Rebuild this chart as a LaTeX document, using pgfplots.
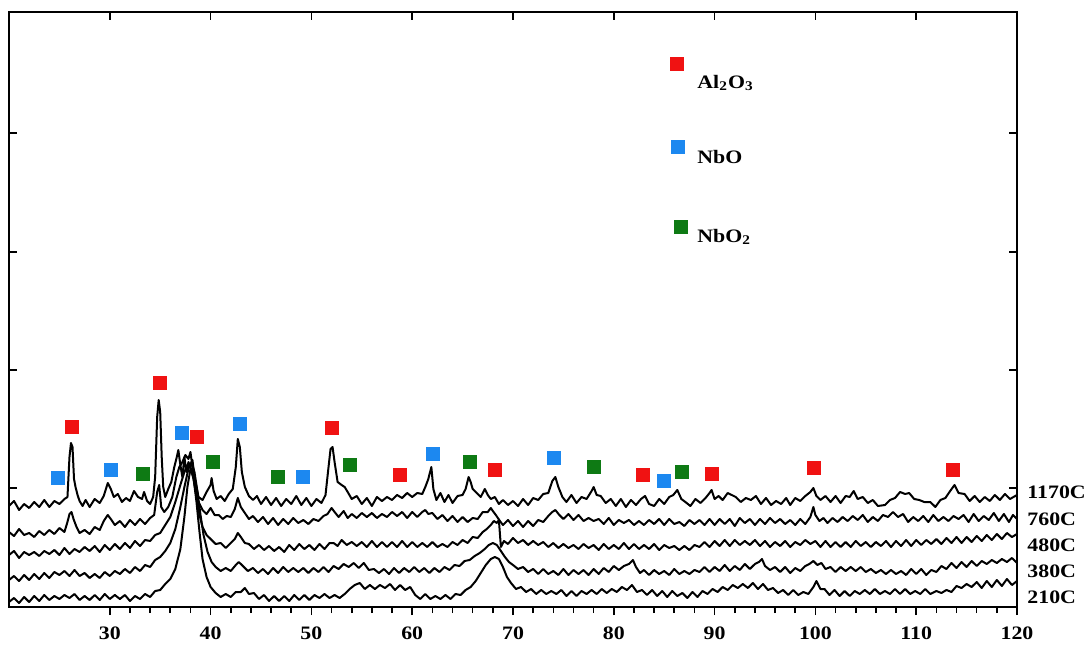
\documentclass[border=0pt]{standalone}
\usepackage{fontspec}
\setmainfont{Liberation Serif}
\usepackage{pgfplots}
\pgfplotsset{compat=1.18}
\definecolor{alred}{HTML}{F01212}
\definecolor{nboblue}{HTML}{1C88F0}
\definecolor{nbogreen}{HTML}{0E7A14}
\newcommand\lab{\bfseries\fontsize{9.5}{11}\selectfont}
\begin{document}
\begin{tikzpicture}
\useasboundingbox (-4.5pt,-18.5pt) rectangle (540pt,303.5pt);
% frame: top ticks + y ticks (inside)
\begin{axis}[at={(0,0)}, anchor=south west, scale only axis,
  width=504pt, height=297.5pt,
  xmin=20, xmax=120, ymin=0, ymax=595,
  xtick={30,40,...,110}, xtick pos=right, xticklabels={},
  ytick={119,237,355,474}, yticklabels={}, ytick pos=both,
  tick align=inside, major tick length=4pt,
  tick style={black, line width=0.8pt},
  axis line style={line width=1pt}]
\end{axis}
% data, bottom ticks
\begin{axis}[at={(0,0)}, anchor=south west, scale only axis,
  width=504pt, height=297.5pt,
  xmin=20, xmax=120, ymin=0, ymax=595,
  xtick={30,40,...,120}, minor x tick num=4, xtick pos=left,
  ytick=\empty, tick align=outside,
  major tick length=4pt, minor tick length=3pt,
  tick style={black, line width=0.8pt},
  axis line style={line width=1pt},
  /pgf/number format/assume math mode=true,
  xticklabel style={font=\lab, xscale=1.15, yshift=-2.5pt},
  clip=false]

% 1170C
\addplot[black, line width=1pt, line join=round] coordinates {
(20.0,101)(20.5,106)(21.0,97)(21.5,103)(22.0,99)(22.5,105)(23.0,100)(23.5,107)(24.0,100)(24.5,106)(25.0,103)(25.5,108)(25.8,110)(26.0,150)(26.15,164)(26.3,160)(26.45,128)(26.6,120)(26.8,112)(27.0,106)(27.3,101)(27.6,107)(28.0,100)(28.5,108)(29.0,104)(29.4,111)(29.8,124)(30.1,118)(30.4,110)(30.8,113)(31.2,105)(31.6,109)(32.0,106)(32.4,116)(32.8,110)(33.2,108)(33.4,115)(33.7,106)(34.0,103)(34.3,110)(34.5,130)(34.7,190)(34.85,207)(35.0,195)(35.15,150)(35.3,120)(35.5,110)(35.8,118)(36.1,125)(36.4,140)(36.6,148)(36.8,157)(37.0,142)(37.2,130)(37.4,150)(37.6,135)(37.8,145)(38.0,140)(38.2,147)(38.4,130)(38.6,120)(38.8,110)(39.2,107)(39.6,115)(40.0,122)(40.1,129)(40.3,116)(40.6,108)(41.0,111)(41.4,106)(41.8,113)(42.2,118)(42.5,140)(42.7,168)(42.9,160)(43.1,135)(43.4,120)(43.8,111)(44.2,107)(44.6,111)(45.0,103)(45.5,110)(46.0,102)(46.5,109)(47.0,101)(47.5,108)(48.0,103)(48.5,111)(49.0,102)(49.5,109)(50.0,101)(50.5,108)(51.0,104)(51.4,112)(51.7,140)(51.9,158)(52.1,160)(52.3,145)(52.6,125)(53.0,122)(53.3,120)(53.6,115)(54.0,108)(54.5,111)(55.0,103)(55.5,109)(56.0,101)(56.5,110)(57.0,106)(57.5,110)(58.0,107)(58.5,112)(59.0,109)(59.5,114)(60.0,110)(60.5,114)(61.0,113)(61.3,120)(61.6,128)(61.9,140)(62.1,118)(62.4,107)(62.8,114)(63.2,105)(63.6,112)(64.0,104)(64.5,111)(65.0,112)(65.3,118)(65.6,130)(65.8,125)(66.0,118)(66.4,114)(66.8,110)(67.2,118)(67.5,112)(67.8,108)(68.2,110)(68.6,103)(69.0,107)(69.5,102)(70.0,106)(70.5,101)(71.0,108)(71.5,102)(72.0,109)(72.5,107)(73.0,113)(73.5,114)(73.9,126)(74.2,130)(74.5,120)(74.9,110)(75.3,105)(75.8,112)(76.3,104)(76.8,110)(77.3,108)(77.8,116)(78.0,120)(78.3,112)(78.7,111)(79.2,104)(79.7,108)(80.2,101)(80.7,108)(81.2,100)(81.7,107)(82.2,102)(82.7,108)(83.1,111)(83.5,103)(84.0,101)(84.5,108)(85.0,103)(85.5,110)(85.9,112)(86.3,117)(86.7,108)(87.1,105)(87.6,101)(88.1,108)(88.6,104)(89.1,109)(89.5,114)(89.7,117)(90.0,108)(90.4,111)(90.8,107)(91.3,114)(91.7,112)(92.1,110)(92.6,105)(93.1,109)(93.6,107)(94.1,111)(94.6,103)(95.1,109)(95.6,102)(96.1,106)(96.6,103)(97.1,109)(97.5,102)(98.0,109)(98.5,106)(99.0,111)(99.5,115)(99.8,119)(100.1,111)(100.5,107)(101.0,111)(101.5,105)(102.0,111)(102.5,104)(103.0,111)(103.4,110)(103.8,116)(104.2,108)(104.7,110)(105.2,104)(105.7,107)(106.2,101)(106.9,102)(107.4,107)(107.9,109)(108.4,115)(108.9,113)(109.3,114)(109.8,108)(110.3,107)(110.8,105)(111.4,105)(111.9,100)(112.4,107)(112.9,109)(113.3,115)(113.8,122)(114.2,114)(114.8,113)(115.3,106)(115.8,111)(116.3,105)(116.8,110)(117.3,106)(117.8,112)(118.3,107)(118.8,113)(119.3,108)(120.0,112)
};
% 760C
\addplot[black, line width=1pt, line join=round] coordinates {
(20.0,75)(20.5,71)(21.0,78)(21.5,72)(22.0,74)(22.5,70)(23.0,76)(23.5,72)(24.0,77)(24.5,73)(25.0,79)(25.5,75)(25.8,85)(26.0,93)(26.2,95)(26.4,88)(26.7,80)(27.0,74)(27.5,77)(28.0,73)(28.5,80)(29.0,77)(29.4,86)(29.8,92)(30.1,88)(30.5,82)(31.0,86)(31.5,80)(32.0,87)(32.5,82)(33.0,88)(33.5,83)(34.0,89)(34.4,92)(34.7,115)(34.9,122)(35.1,100)(35.4,95)(35.8,100)(36.2,110)(36.6,130)(36.9,140)(37.2,145)(37.5,152)(37.8,148)(38.0,155)(38.2,140)(38.5,118)(38.8,105)(39.2,97)(39.6,93)(40.0,99)(40.4,92)(40.8,92)(41.2,88)(41.6,91)(42.0,90)(42.4,98)(42.7,109)(43.0,100)(43.4,94)(43.8,88)(44.2,91)(44.7,85)(45.2,90)(45.7,83)(46.2,89)(46.7,82)(47.2,88)(47.7,83)(48.2,89)(48.7,84)(49.2,87)(49.7,83)(50.2,88)(50.7,86)(51.2,91)(51.6,93)(52.0,99)(52.3,95)(52.7,90)(53.2,96)(53.6,89)(54.0,93)(54.5,89)(55.0,94)(55.5,90)(56.0,94)(56.5,89)(57.0,93)(57.5,90)(58.0,95)(58.5,91)(59.0,95)(59.5,89)(60.0,95)(60.5,90)(61.0,95)(61.3,97)(61.6,93)(62.0,94)(62.5,88)(63.0,92)(63.5,86)(64.0,91)(64.5,85)(65.0,90)(65.5,85)(66.0,89)(66.5,88)(67.0,95)(67.5,95)(67.8,99)(68.0,96)(68.3,92)(68.7,86)(69.0,82)(69.5,87)(70.0,81)(70.5,86)(71.0,80)(71.5,86)(72.0,81)(72.5,87)(73.0,85)(73.5,91)(73.9,95)(74.2,97)(74.6,92)(75.0,88)(75.5,93)(76.0,87)(76.5,92)(77.0,86)(77.5,89)(78.0,86)(78.5,88)(79.0,83)(79.5,89)(80.0,82)(80.5,87)(81.0,84)(81.5,87)(82.0,82)(82.5,86)(83.0,82)(83.5,87)(84.0,83)(84.5,88)(85.0,82)(85.5,88)(86.0,83)(86.5,85)(87.0,81)(87.5,87)(88.0,83)(88.5,87)(89.0,82)(89.5,88)(90.0,82)(90.5,88)(91.0,83)(91.5,88)(92.0,81)(92.5,89)(93.0,84)(93.5,88)(94.0,82)(94.5,88)(95.0,83)(95.5,89)(96.0,84)(96.5,88)(97.0,83)(97.5,87)(98.0,82)(98.5,88)(99.0,83)(99.5,90)(99.8,100)(100.0,92)(100.4,86)(100.8,89)(101.2,84)(101.7,89)(102.2,85)(102.7,90)(103.2,86)(103.7,91)(104.2,87)(104.7,92)(105.2,85)(105.7,90)(106.2,86)(106.7,92)(107.2,90)(107.7,95)(108.2,90)(108.7,93)(109.2,85)(109.7,90)(110.2,86)(110.7,91)(111.2,85)(111.7,92)(112.2,86)(112.7,90)(113.2,86)(113.7,91)(114.2,88)(114.7,92)(115.2,85)(115.7,93)(116.2,86)(116.7,91)(117.2,87)(117.7,94)(118.2,86)(118.7,93)(119.2,85)(119.6,92)(120.0,88)
};
% 480C
\addplot[black, line width=1pt, line join=round] coordinates {
(20.0,52)(20.5,56)(21.0,49)(21.5,55)(22.0,52)(22.5,55)(23.0,51)(23.5,56)(24.0,53)(24.5,57)(25.0,52)(25.5,59)(26.0,53)(26.5,58)(27.0,55)(27.5,60)(28.0,56)(28.5,61)(29.0,55)(29.5,62)(30.0,57)(30.5,63)(31.0,58)(31.5,64)(32.0,59)(32.5,66)(33.0,61)(33.5,67)(34.0,66)(34.5,72)(35.0,74)(35.5,82)(36.0,90)(36.5,105)(37.0,122)(37.4,135)(37.7,142)(38.0,140)(38.3,128)(38.6,110)(38.9,92)(39.2,80)(39.6,72)(40.0,68)(40.5,63)(41.0,64)(41.5,59)(42.0,64)(42.4,68)(42.7,74)(43.0,70)(43.4,64)(43.8,63)(44.3,58)(44.8,62)(45.3,57)(45.8,61)(46.3,56)(46.8,60)(47.3,55)(47.8,62)(48.3,57)(48.8,63)(49.3,58)(49.8,62)(50.3,57)(50.8,63)(51.3,58)(51.8,64)(52.2,64)(52.6,61)(53.0,67)(53.5,62)(54.0,65)(54.5,61)(55.0,65)(55.5,60)(56.0,66)(56.5,60)(57.0,65)(57.5,60)(58.0,65)(58.5,60)(59.0,66)(59.5,60)(60.0,65)(60.5,60)(61.0,64)(61.5,60)(62.0,65)(62.5,60)(63.0,63)(63.5,60)(64.0,65)(64.5,62)(65.0,67)(65.5,64)(66.0,70)(66.5,69)(67.0,75)(67.4,78)(67.8,82)(68.1,86)(68.4,84)(68.6,87)(68.8,60)(69.1,66)(69.5,63)(70.0,69)(70.5,64)(71.0,67)(71.5,62)(72.0,66)(72.5,62)(73.0,65)(73.5,60)(74.0,64)(74.5,59)(75.0,63)(75.5,59)(76.0,62)(76.5,58)(77.0,63)(77.5,59)(78.0,62)(78.5,57)(79.0,63)(79.5,58)(80.0,62)(80.5,58)(81.0,64)(81.5,58)(82.0,63)(82.5,58)(83.0,62)(83.5,58)(84.0,63)(84.5,57)(85.0,62)(85.5,59)(86.0,61)(86.5,57)(87.0,61)(87.5,57)(88.0,62)(88.5,60)(89.0,65)(89.5,60)(90.0,66)(90.5,61)(91.0,67)(91.5,61)(92.0,67)(92.5,62)(93.0,66)(93.5,62)(94.0,67)(94.5,61)(95.0,66)(95.5,60)(96.0,65)(96.5,61)(97.0,66)(97.5,60)(98.0,65)(98.5,62)(99.0,67)(99.5,63)(100.0,66)(100.5,60)(101.0,66)(101.5,60)(102.0,65)(102.5,60)(103.0,65)(103.5,60)(104.0,66)(104.5,61)(105.0,65)(105.5,60)(106.0,65)(106.5,61)(107.0,66)(107.5,60)(108.0,66)(108.5,61)(109.0,67)(109.5,61)(110.0,67)(110.5,62)(111.0,67)(111.5,63)(112.0,68)(112.5,63)(113.0,69)(113.5,64)(114.0,70)(114.5,64)(115.0,70)(115.5,65)(116.0,71)(116.5,66)(117.0,72)(117.5,67)(118.0,73)(118.5,68)(119.0,74)(119.5,70)(120.0,73)
};
% 380C
\addplot[black, line width=1pt, line join=round] coordinates {
(20.0,27)(20.5,31)(21.0,26)(21.5,32)(22.0,27)(22.5,33)(23.0,28)(23.5,34)(24.0,29)(24.5,35)(25.0,32)(25.5,36)(26.0,31)(26.5,37)(27.0,31)(27.5,34)(28.0,29)(28.5,33)(29.0,29)(29.5,35)(30.0,31)(30.5,36)(31.0,33)(31.5,38)(32.0,34)(32.5,40)(33.0,36)(33.5,42)(34.0,40)(34.5,47)(35.0,50)(35.5,56)(36.0,64)(36.5,78)(37.0,100)(37.4,120)(37.8,138)(38.1,145)(38.4,135)(38.7,115)(39.0,92)(39.3,72)(39.7,55)(40.1,45)(40.5,40)(41.0,36)(41.5,39)(42.0,36)(42.5,42)(42.8,45)(43.2,41)(43.7,36)(44.2,39)(44.7,34)(45.2,38)(45.7,33)(46.2,39)(46.7,34)(47.2,40)(47.7,35)(48.2,39)(48.7,35)(49.2,39)(49.7,34)(50.2,39)(50.7,35)(51.2,40)(51.7,35)(52.2,41)(52.7,38)(53.2,43)(53.7,40)(54.2,44)(54.7,39)(55.2,44)(55.7,37)(56.2,38)(56.7,34)(57.2,38)(57.7,33)(58.2,39)(58.7,34)(59.2,39)(59.7,35)(60.2,40)(60.7,35)(61.2,39)(61.7,34)(62.2,39)(62.7,35)(63.2,40)(63.7,37)(64.2,42)(64.7,41)(65.2,46)(65.7,47)(66.2,51)(66.7,54)(67.2,58)(67.6,62)(68.0,64)(68.4,62)(68.8,56)(69.2,50)(69.6,45)(70.0,42)(70.5,38)(71.0,40)(71.5,35)(72.0,38)(72.5,33)(73.0,38)(73.5,33)(74.0,36)(74.5,32)(75.0,38)(75.5,32)(76.0,37)(76.5,33)(77.0,37)(77.5,32)(78.0,38)(78.5,33)(79.0,39)(79.5,35)(80.0,41)(80.5,37)(81.0,41)(81.5,43)(81.9,47)(82.2,40)(82.6,34)(83.0,37)(83.5,32)(84.0,37)(84.5,33)(85.0,36)(85.5,32)(86.0,38)(86.5,33)(87.0,36)(87.5,33)(88.0,37)(88.5,35)(89.0,40)(89.5,35)(90.0,40)(90.5,36)(91.0,42)(91.5,36)(92.0,41)(92.5,37)(93.0,43)(93.5,38)(94.0,43)(94.4,45)(94.7,48)(95.0,41)(95.5,37)(96.0,40)(96.5,35)(97.0,40)(97.5,34)(98.0,39)(98.5,36)(99.0,41)(99.4,43)(99.8,46)(100.2,42)(100.6,44)(101.0,38)(101.5,40)(102.0,35)(102.5,40)(103.0,36)(103.5,40)(104.0,36)(104.5,40)(105.0,35)(105.5,38)(106.0,34)(106.5,37)(107.0,33)(107.5,37)(108.0,33)(108.5,36)(109.0,32)(109.5,38)(110.0,33)(110.5,38)(111.0,32)(111.5,37)(112.0,35)(112.5,41)(113.0,38)(113.5,44)(114.0,39)(114.5,45)(115.0,40)(115.5,46)(116.0,41)(116.5,46)(117.0,43)(117.5,47)(118.0,44)(118.5,48)(119.0,45)(119.5,49)(120.0,44)
};
% 210C
\addplot[black, line width=1pt, line join=round] coordinates {
(20.0,5)(20.5,9)(21.0,4)(21.5,10)(22.0,5)(22.5,11)(23.0,6)(23.5,12)(24.0,7)(24.5,11)(25.0,8)(25.5,12)(26.0,9)(26.5,13)(27.0,7)(27.5,11)(28.0,7)(28.5,12)(29.0,7)(29.5,13)(30.0,8)(30.5,12)(31.0,8)(31.5,12)(32.0,6)(32.5,11)(33.0,8)(33.5,13)(34.0,10)(34.5,16)(35.0,17)(35.5,23)(36.0,28)(36.5,38)(37.0,58)(37.4,90)(37.7,120)(38.0,138)(38.3,130)(38.6,105)(38.9,75)(39.2,48)(39.6,30)(40.0,20)(40.5,14)(41.0,10)(41.5,13)(42.0,10)(42.5,15)(43.0,15)(43.4,19)(43.8,13)(44.3,14)(44.8,8)(45.3,12)(45.8,6)(46.3,11)(46.8,6)(47.3,11)(47.8,6)(48.3,12)(48.8,7)(49.3,12)(49.8,7)(50.3,12)(50.8,9)(51.3,13)(51.8,9)(52.3,12)(52.8,9)(53.3,13)(53.8,18)(54.3,22)(54.8,24)(55.3,18)(55.8,22)(56.3,18)(56.8,22)(57.3,19)(57.8,23)(58.3,17)(58.8,22)(59.3,17)(59.8,20)(60.3,12)(60.8,8)(61.3,13)(61.8,8)(62.3,11)(62.8,8)(63.3,12)(63.8,8)(64.3,13)(64.8,12)(65.3,17)(65.8,20)(66.3,26)(66.8,34)(67.3,42)(67.8,48)(68.2,50)(68.6,48)(69.0,40)(69.4,30)(69.8,24)(70.3,18)(70.8,20)(71.3,15)(71.8,18)(72.3,13)(72.8,17)(73.3,13)(73.8,16)(74.3,13)(74.8,17)(75.3,11)(75.8,16)(76.3,11)(76.8,16)(77.3,13)(77.8,17)(78.3,13)(78.8,18)(79.3,14)(79.8,18)(80.3,15)(80.8,20)(81.3,17)(81.8,22)(82.3,15)(82.8,17)(83.3,12)(83.8,17)(84.3,11)(84.8,16)(85.3,10)(85.8,16)(86.3,11)(86.8,14)(87.3,9)(87.8,15)(88.3,10)(88.8,16)(89.3,13)(89.8,18)(90.3,15)(90.8,20)(91.3,17)(91.8,22)(92.3,19)(92.8,23)(93.3,19)(93.8,24)(94.3,18)(94.8,23)(95.3,17)(95.8,19)(96.3,14)(96.8,17)(97.3,12)(97.8,17)(98.3,12)(98.8,15)(99.3,13)(99.8,20)(100.1,26)(100.5,18)(100.9,18)(101.4,12)(101.9,17)(102.4,11)(102.9,16)(103.4,11)(103.9,16)(104.4,13)(104.9,17)(105.4,13)(105.9,18)(106.4,13)(106.9,16)(107.4,13)(107.9,18)(108.4,13)(108.9,18)(109.4,13)(109.9,16)(110.4,13)(110.9,18)(111.4,13)(112.0,16)(112.5,14)(113.0,17)(113.5,15)(114.0,21)(114.5,19)(115.0,23)(115.5,20)(116.0,25)(116.5,19)(117.0,26)(117.5,20)(118.0,27)(118.5,21)(119.0,28)(119.5,22)(120.0,26)
};

% phase markers
\addplot[only marks, mark=square*, mark size=3.3pt, color=alred] coordinates {
(26.25,180)(34.98,224)(38.65,170)(52.04,179)(58.79,132)(68.21,137)(82.90,132)(89.74,133)(99.86,139)(113.65,137)(86.27,543)};
\addplot[only marks, mark=square*, mark size=3.3pt, color=nboblue] coordinates {
(24.86,129)(30.12,137)(37.16,174)(42.92,183)(49.17,130)(62.06,153)(74.07,149)(84.98,126)(86.37,460)};
\addplot[only marks, mark=square*, mark size=3.3pt, color=nbogreen] coordinates {
(33.29,133)(40.24,145)(46.69,130)(53.83,142)(65.73,145)(78.04,140)(86.77,135)(86.67,380)};

% legend texts
\node[anchor=west, inner sep=0pt, font=\lab, xscale=1.15] at (axis cs:88.25,524) {Al\textsubscript{2}O\textsubscript{3}};
\node[anchor=west, inner sep=0pt, font=\lab, xscale=1.15] at (axis cs:88.25,450) {NbO};
\node[anchor=west, inner sep=0pt, font=\lab, xscale=1.15] at (axis cs:88.25,370) {NbO\textsubscript{2}};

% temperature labels
\node[anchor=west, inner sep=0pt, font=\lab, xscale=1.15] at ([xshift=5pt]axis cs:120,115) {1170C};
\node[anchor=west, inner sep=0pt, font=\lab, xscale=1.15] at ([xshift=5pt]axis cs:120,88) {760C};
\node[anchor=west, inner sep=0pt, font=\lab, xscale=1.15] at ([xshift=5pt]axis cs:120,62) {480C};
\node[anchor=west, inner sep=0pt, font=\lab, xscale=1.15] at ([xshift=5pt]axis cs:120,36) {380C};
\node[anchor=west, inner sep=0pt, font=\lab, xscale=1.15] at ([xshift=5pt]axis cs:120,10) {210C};
\end{axis}
\end{tikzpicture}
\end{document}
